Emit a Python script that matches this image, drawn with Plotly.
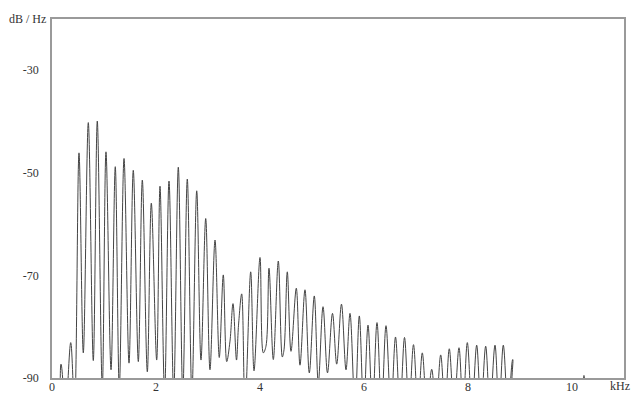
import plotly.graph_objects as go

# Spectrum curve: frequency (kHz) and level (dB/Hz) at peaks, valleys and shoulders
freq_khz = [
    0.0, 0.10, 0.173, 0.26, 0.36, 0.433,
    0.519, 0.602, 0.698, 0.794, 0.871, 0.967, 1.038, 1.135, 1.217, 1.294,
    1.385, 1.481, 1.563, 1.660, 1.737, 1.833, 1.910, 2.013, 2.077, 2.165,
    2.25, 2.34, 2.429, 2.515, 2.602, 2.69, 2.783, 2.865, 2.956, 3.038,
    3.135, 3.217, 3.294, 3.360, 3.423, 3.481, 3.548, 3.587, 3.648, 3.712,
    3.821, 3.885, 4.0, 4.063, 4.115, 4.173, 4.256, 4.352, 4.429, 4.462,
    4.525, 4.596, 4.698, 4.769, 4.865, 4.948, 5.044, 5.121, 5.212, 5.298,
    5.394, 5.475, 5.567, 5.654, 5.731, 5.827, 5.910, 5.994, 6.077, 6.163,
    6.25, 6.337, 6.423, 6.519, 6.606, 6.692, 6.779, 6.865, 6.952, 7.038,
    7.121, 7.212, 7.302, 7.385, 7.475, 7.558, 7.640, 7.731, 7.827, 7.904,
    7.987, 8.077, 8.167, 8.25, 8.340, 8.423, 8.519, 8.596, 8.679, 8.769,
    8.860, 8.942, 10.15, 10.23, 10.31, 11.0,
]
level_db = [
    -96, -96, -87.3, -96, -83.1, -96,
    -46.1, -85.1, -40.2, -86.6, -39.9, -92, -45.9, -88.4, -48.8, -92,
    -47.2, -87.1, -49.5, -86.8, -51.4, -88.8, -55.9, -86.5, -52.6, -93,
    -51.6, -93, -48.9, -93, -51.2, -93, -53.5, -86.5, -58.9, -88.4,
    -63.1, -86.0, -69.9, -86.8, -82.8, -75.5, -86.5, -79.7, -73.6, -96,
    -69.3, -88.6, -66.5, -85.1, -83.8, -68.6, -86.4, -67.2, -85.9, -84.5,
    -69.3, -84.8, -72.5, -87.5, -72.8, -89.0, -74.0, -91.0, -76.1, -89.0,
    -77.4, -87.3, -75.6, -88.4, -77.4, -96, -77.9, -96, -79.7, -96,
    -79.2, -96, -79.8, -96, -82.0, -96, -82.1, -96, -83.5, -96,
    -85.1, -96, -88.3, -96, -85.5, -96, -84.3, -96, -84.1, -96,
    -83.1, -96, -83.6, -96, -83.8, -96, -83.6, -96, -83.6, -96,
    -86.4, -96, -96, -89.5, -96, -96,
]

x_ticks = [0, 2, 4, 6, 8, 10]
y_ticks = [-90, -70, -50, -30]

font = dict(family="Liberation Serif", size=12, color="#333333")

fig = go.Figure()
fig.add_trace(go.Scatter(
    x=freq_khz, y=level_db, mode="lines",
    line=dict(color="#444444", width=1, shape="spline", smoothing=1),
    hoverinfo="skip", showlegend=False,
))

axis_common = dict(
    showgrid=False, zeroline=False, showline=True, mirror=True, automargin=False,
    linecolor="#9a9a9a", linewidth=1.5, ticks="", tickfont=font,
)
fig.update_xaxes(range=[0, 11], tickvals=x_ticks, ticktext=[str(v) for v in x_ticks],
                 ticklabelstandoff=-3, **axis_common)
fig.update_yaxes(range=[-90, -20], tickvals=y_ticks, ticktext=[str(v) for v in y_ticks],
                 ticklabelstandoff=9, **axis_common)

fig.add_annotation(text="dB / Hz", xref="paper", yref="paper", x=0, y=1,
                   xanchor="right", yanchor="middle", xshift=-4, showarrow=False, font=font)
fig.add_annotation(text="kHz", xref="paper", yref="paper", x=1, y=0,
                   xanchor="right", yanchor="top", xshift=8, yshift=1, showarrow=False, font=font)

fig.update_layout(
    width=633, height=394,
    margin=dict(l=52, r=9, t=19, b=16),
    paper_bgcolor="white", plot_bgcolor="white",
)
fig.write_html("out.html", config={"displayModeBar": False},
               post_script="document.body.style.margin='0';")
